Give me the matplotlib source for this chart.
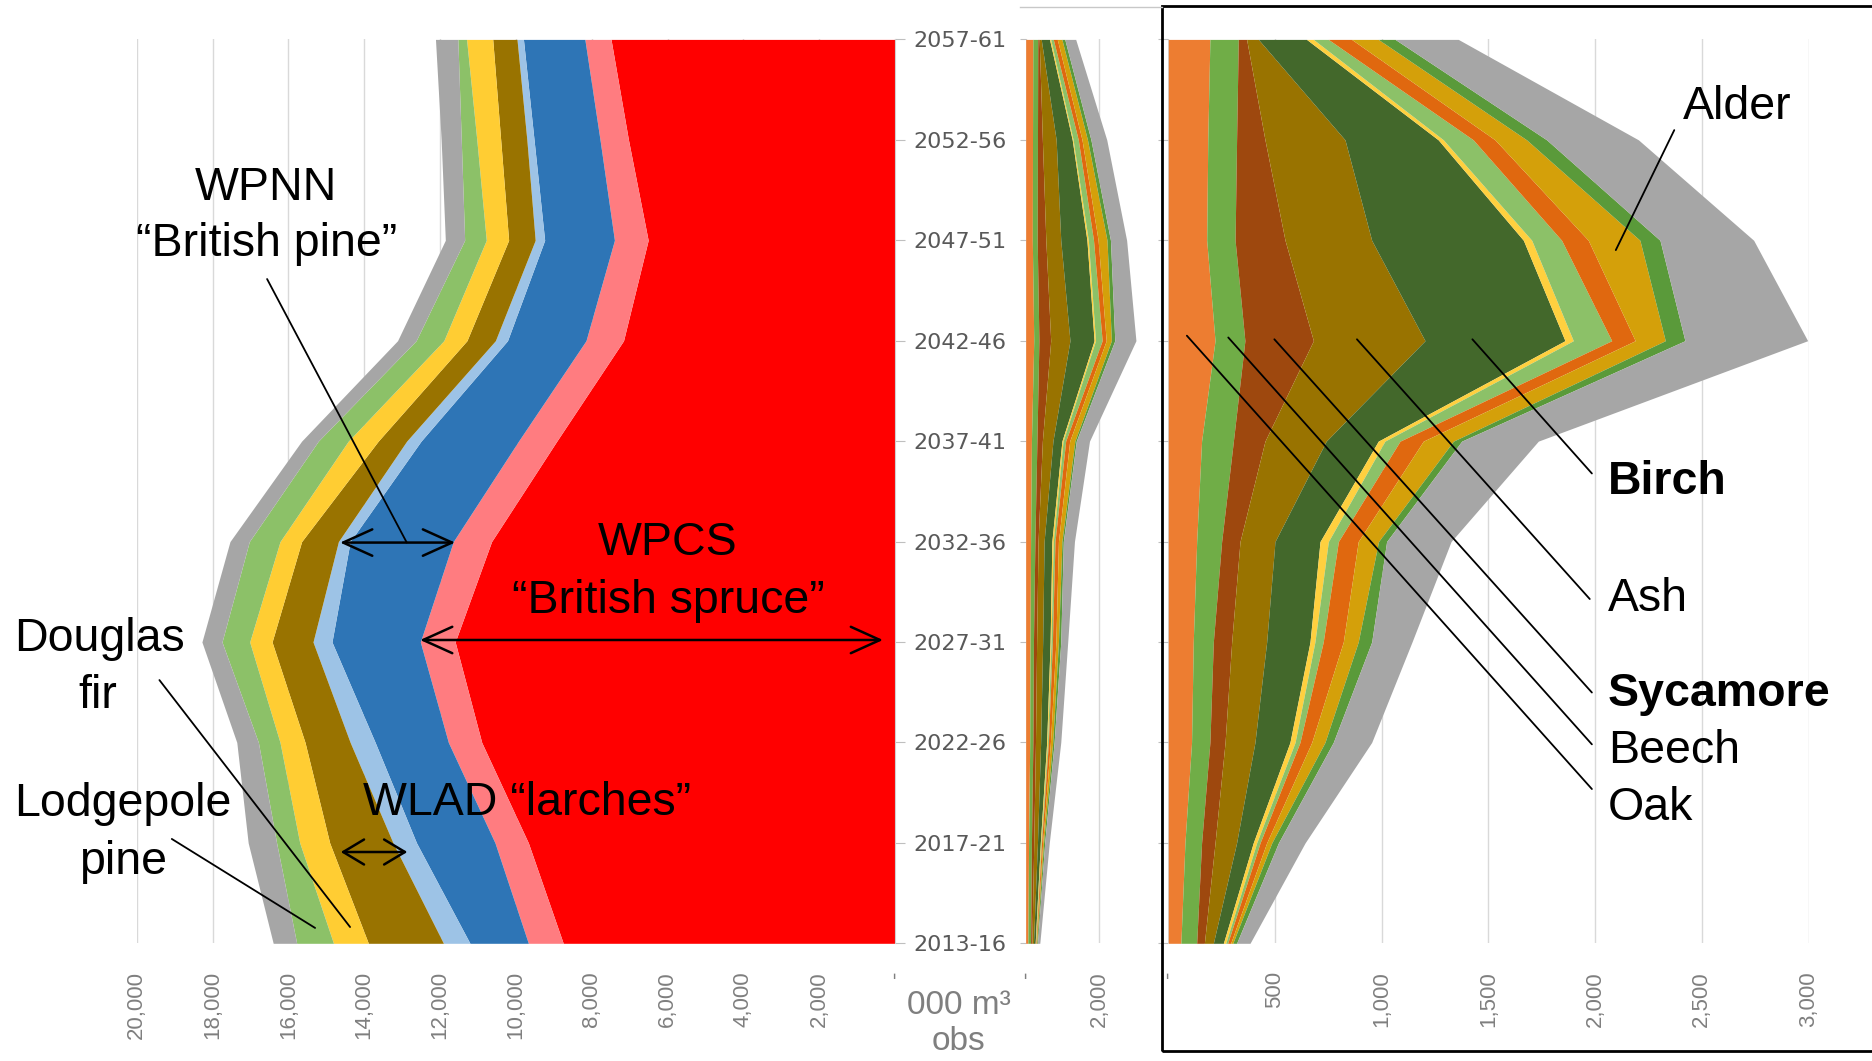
import numpy as np
import matplotlib
matplotlib.use("Agg")
import matplotlib.pyplot as plt
from matplotlib.patches import Rectangle
from matplotlib.lines import Line2D

plt.rcParams['font.family'] = ['Liberation Sans', 'DejaVu Sans']

# ---------------- data (000 m3 obs), periods bottom -> top ----------------
periods = ['2013-16', '2017-21', '2022-26', '2027-31', '2032-36',
           '2037-41', '2042-46', '2047-51', '2052-56', '2057-61']

# conifers, stacked from the value-axis origin outwards
wpcs_spruce   = [8750, 9670, 10900, 11600, 10640, 8920, 7160, 6510, 7030, 7490]
other_spruce  = [920, 880, 880, 920, 1010, 1010, 990, 890, 750, 690]
wpnn_pine     = [1540, 2070, 1930, 2330, 2720, 2570, 2070, 1840, 1740, 1620]
other_pine    = [700, 620, 660, 500, 310, 380, 320, 250, 190, 170]
wlad_larches  = [1980, 1670, 1190, 1080, 970, 750, 750, 700, 690, 640]
douglas_fir   = [920, 790, 660, 590, 570, 790, 610, 590, 630, 690]
lodgepole     = [970, 610, 570, 730, 810, 790, 730, 570, 410, 230]
other_conifer = [620, 750, 570, 530, 510, 440, 490, 510, 530, 590]

conifer_series = [wpcs_spruce, other_spruce, wpnn_pine, other_pine,
                  wlad_larches, douglas_fir, lodgepole, other_conifer]
conifer_colors = ['#FF0000', '#FF7C80', '#2E75B6', '#9DC3E6',
                  '#997300', '#FFCD33', '#8CC168', '#A6A6A6']

# broadleaves, stacked from the origin outwards
oak       = [59, 78, 109, 117, 133, 156, 219, 180, 185, 195]
beech     = [74, 78, 86, 94, 117, 149, 140, 133, 135, 133]
sycamore  = [36, 63, 71, 86, 86, 148, 321, 234, 133, 39]
ash       = [42, 101, 140, 164, 164, 287, 523, 406, 375, 55]
birch     = [47, 78, 164, 203, 211, 244, 656, 711, 437, 226]
bl_other1 = [11, 16, 24, 23, 39, 31, 39, 39, 24, 32]
bl_other2 = [9, 16, 23, 39, 47, 71, 180, 140, 140, 70]
bl_other3 = [14, 31, 55, 94, 93, 109, 110, 125, 102, 109]
alder     = [10, 24, 62, 70, 95, 141, 141, 242, 148, 125]
bl_other4 = [18, 31, 39, 63, 38, 39, 92, 94, 94, 79]
bl_rest   = [63, 125, 180, 189, 302, 359, 575, 439, 430, 296]

broadleaf_series = [oak, beech, sycamore, ash, birch, bl_other1, bl_other2,
                    bl_other3, alder, bl_other4, bl_rest]
broadleaf_colors = ['#ED7D31', '#70AD47', '#9E480E', '#997300', '#43682B',
                    '#FFD03F', '#8CC168', '#E0680F', '#D4A00A', '#5A9A3A',
                    '#A6A6A6']

conifer_ticks = list(range(0, 20001, 2000))
middle_ticks = [0, 2000]
broadleaf_ticks = list(range(0, 3001, 500))

# ---------------- figure ----------------
W, H = 1872, 1061
fig = plt.figure(figsize=(W / 100, H / 100), dpi=100)

def fbox(x0, x1, y0, y1):
    return [x0 / W, 1 - y1 / H, (x1 - x0) / W, (y1 - y0) / H]

TOP, BOT = 39.4, 943.3
axL = fig.add_axes(fbox(136.7, 895.0, TOP, BOT))
axM = fig.add_axes(fbox(1025.7, 1160.0, TOP, BOT))
axR = fig.add_axes(fbox(1168.3, 1808.5, TOP, BOT))

yidx = np.arange(len(periods))

def fmt(v):
    return '-' if v == 0 else f'{v:,.0f}'

def stack(ax, series, colors):
    left = np.zeros(len(periods))
    for s, c in zip(series, colors):
        right = left + np.asarray(s, float)
        ax.fill_betweenx(yidx, left, right, color=c, lw=0, zorder=1)
        left = right

def style(ax, ticks, xlim):
    ax.set_xlim(*xlim)
    ax.set_ylim(0, len(periods) - 1)
    ax.set_xticks(ticks)
    ax.set_xticklabels([fmt(t) for t in ticks], rotation=90)
    ax.grid(axis='x', color='#d9d9d9', lw=1)
    ax.set_axisbelow(True)
    for sp in ax.spines.values():
        sp.set_visible(False)
    ax.tick_params(axis='x', length=0, pad=20, labelsize=16,
                   labelcolor='#7f7f7f')
    ax.set_yticks(yidx)

stack(axL, conifer_series, conifer_colors)
style(axL, conifer_ticks, (20000, 0))
axL.yaxis.tick_right()
axL.set_yticklabels(periods, family='DejaVu Sans')
axL.tick_params(axis='y', length=7, color='#bfbfbf', pad=6, labelsize=16,
                labelcolor='#595959')
axL.spines['right'].set_visible(True)
axL.spines['right'].set_color('#d0d0d0')

stack(axM, broadleaf_series, broadleaf_colors)
style(axM, middle_ticks, (0, 3650))
axM.set_yticklabels([])
axM.tick_params(axis='y', length=4, color='#bfbfbf')

stack(axR, broadleaf_series, broadleaf_colors)
style(axR, broadleaf_ticks, (0, 3000))
axR.set_yticklabels([])
axR.tick_params(axis='y', length=7, color='#bfbfbf')

# ---------------- annotations ----------------
FS = 33.5

def line(ax, p0, p1, lw=1.3):
    ax.annotate('', xy=p1, xytext=p0, annotation_clip=False,
                arrowprops=dict(arrowstyle='-', lw=lw, color='black',
                                shrinkA=0, shrinkB=0))

def darrow(ax, p0, p1, hl=2.1, hw=0.95):
    ax.annotate('', xy=p1, xytext=p0, annotation_clip=False,
                arrowprops=dict(arrowstyle=f'<->,head_length={hl},head_width={hw}',
                                lw=1.8, color='black', shrinkA=0, shrinkB=0))

def label(ax, x, y, s, ha='center', bold=False):
    ax.text(x, y, s, ha=ha, va='baseline', fontsize=FS, color='black',
            fontweight='bold' if bold else 'normal', zorder=5)

# conifers
label(axL, 16588, 7.40, 'WPNN')
label(axL, 16561, 6.84, '\u201cBritish pine\u201d')
line(axL, (16561, 6.614), (12877, 3.99))
darrow(axL, (14636, 3.99), (11603, 3.99))

label(axL, 5986, 3.866, 'WPCS')
label(axL, 5986, 3.292, '\u201cBritish spruce\u201d')
darrow(axL, (12526, 3.02), (316, 3.02))

label(axL, 9692, 1.277, 'WLAD \u201clarches\u201d')
darrow(axL, (14618, 0.909), (12861, 0.909), hl=1.5, hw=0.9)

label(axL, 20992, 2.910, 'Douglas')
label(axL, 21018, 2.343, 'fir')
line(axL, (19401, 2.621), (14372, 0.162))

label(axL, 20359, 1.268, 'Lodgepole')
label(axL, 20359, 0.693, 'pine')
line(axL, (19074, 1.039), (15295, 0.153))

# broadleaves
label(axR, 2665, 8.21, 'Alder')
line(axR, (2371, 8.097), (2097, 6.902))
label(axR, 2061, 4.474, 'Birch', ha='left', bold=True)
line(axR, (1425, 6.014), (1985, 4.678))
label(axR, 2061, 3.305, 'Ash', ha='left')
line(axR, (884, 6.014), (1975, 3.428))
label(axR, 2061, 2.363, 'Sycamore', ha='left', bold=True)
line(axR, (497, 6.014), (1985, 2.497))
label(axR, 2061, 1.792, 'Beech', ha='left')
line(axR, (281, 6.032), (1985, 1.981))
label(axR, 2061, 1.228, 'Oak', ha='left')
line(axR, (87, 6.050), (1985, 1.536))

# unit label
fig.text(959 / W, 1 - 1005 / H, '000 m\u00b3', ha='center', va='center',
         fontsize=24, color='#7f7f7f')
fig.text(959 / W, 1 - 1041 / H, 'obs', ha='center', va='center',
         fontsize=24, color='#7f7f7f')

# frames
fig.patches.append(Rectangle((1162 / W, 1 - 1051 / H), (W + 5 - 1162) / W,
                             (1051 - 6) / H, transform=fig.transFigure,
                             fill=False, ec='black', lw=2))
fig.lines.append(Line2D([1020 / W, 1162 / W], [1 - 7 / H, 1 - 7 / H],
                        transform=fig.transFigure, color='#c8c8c8', lw=1))

fig.savefig('out.png', dpi=100)
